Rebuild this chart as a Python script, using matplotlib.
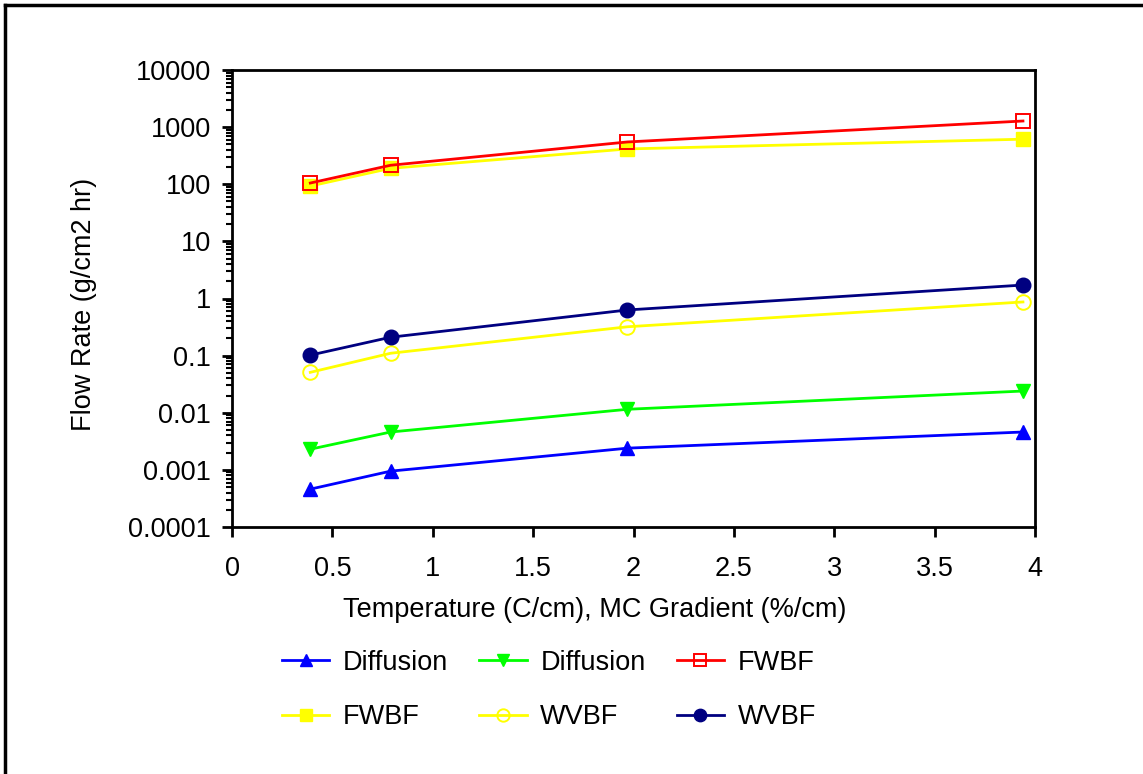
import matplotlib
matplotlib.use('Agg')
import matplotlib.pyplot as plt
import matplotlib.ticker as mticker
from matplotlib.lines import Line2D

plt.rcParams['font.family'] = ['Liberation Sans', 'DejaVu Sans']

x_vals = [0.39, 0.79, 1.97, 3.94]

diffusion_temp = [0.00046, 0.00095, 0.0024, 0.0046]
diffusion_mc = [0.0023, 0.0046, 0.0115, 0.024]
fwbf_temp = [105, 215, 550, 1280]
fwbf_mc = [93, 190, 415, 615]
wvbf_mc = [0.051, 0.11, 0.32, 0.87]
wvbf_temp = [0.102, 0.21, 0.63, 1.72]

y_ticks = [0.0001, 0.001, 0.01, 0.1, 1, 10, 100, 1000, 10000]
y_tick_labels = ['0.0001', '0.001', '0.01', '0.1', '1', '10', '100', '1000', '10000']
x_ticks = [0, 0.5, 1, 1.5, 2, 2.5, 3, 3.5, 4]
x_tick_labels = ['0', '0.5', '1', '1.5', '2', '2.5', '3', '3.5', '4']

fs = 19.5
fig = plt.figure(figsize=(11.43, 7.74), dpi=100)
ax = fig.add_axes([232 / 1143, 1 - 527 / 774, (1035 - 232) / 1143, (527 - 70) / 774])

lw = 2
ms = 10.5
h1, = ax.plot(x_vals, diffusion_temp, color='#0000FF', marker='^', lw=lw, ms=ms, label='Diffusion')
h4, = ax.plot(x_vals, fwbf_mc, color='#FFFF00', marker='s', lw=lw, ms=ms, label='FWBF')
h2, = ax.plot(x_vals, diffusion_mc, color='#00FF00', marker='v', lw=lw, ms=ms, label='Diffusion')
h5, = ax.plot(x_vals, wvbf_mc, color='#FFFF00', marker='o', lw=lw, ms=ms, mfc='none', mew=1.4, label='WVBF')
h3, = ax.plot(x_vals, fwbf_temp, color='#FF0000', marker='s', lw=lw, ms=ms, mfc='none', mew=1.4, label='FWBF')
h6, = ax.plot(x_vals, wvbf_temp, color='#000080', marker='o', lw=lw, ms=ms, label='WVBF')

ax.set_yscale('log')
ax.set_ylim(0.0001, 10000)
ax.set_xlim(0, 4)
ax.set_yticks(y_ticks)
ax.set_yticklabels(y_tick_labels)
ax.yaxis.set_minor_locator(mticker.LogLocator(base=10, subs=range(2, 10), numticks=100))
ax.yaxis.set_minor_formatter(mticker.NullFormatter())
ax.set_xticks(x_ticks)
ax.set_xticklabels(x_tick_labels)

for s in ax.spines.values():
    s.set_linewidth(2)
ax.tick_params(axis='both', which='major', direction='out', length=7, width=2,
               labelsize=fs, top=False, right=False)
ax.tick_params(axis='y', which='major', pad=8)
ax.tick_params(axis='x', which='major', pad=14)
ax.tick_params(axis='y', which='minor', direction='out', length=4, width=1.5, right=False)

ax.set_ylabel('Flow Rate (g/cm2 hr)', fontsize=fs)
ax.set_xlabel('Temperature (C/cm), MC Gradient (%/cm)', fontsize=fs)
ax.yaxis.set_label_coords(-0.168, 0.486)
ax.xaxis.set_label_coords(0.452, -0.153)

leg = fig.legend(handles=[h1, h4, h2, h5, h3, h6], ncol=3, loc='center',
                 bbox_to_anchor=(549 / 1143, 1 - 690 / 774), frameon=False,
                 fontsize=fs, handlelength=1.75, handletextpad=0.5,
                 columnspacing=1.15, labelspacing=1.05, markerscale=0.85)

# outer frame (only top and left edges visible)
fig.add_artist(Line2D([5 / 1143, 5 / 1143], [0, 1 - 5 / 774], color='black', lw=2.5,
                      transform=fig.transFigure))
fig.add_artist(Line2D([5 / 1143, 1], [1 - 5 / 774, 1 - 5 / 774], color='black', lw=2.5,
                      transform=fig.transFigure))

fig.savefig('out.png', dpi=100)
